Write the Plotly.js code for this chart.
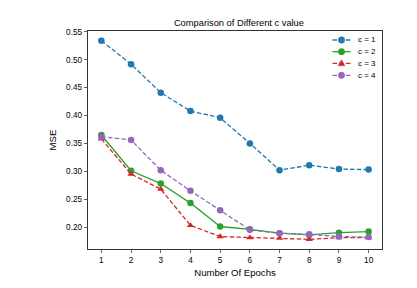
<!DOCTYPE html>
<html><head><meta charset="utf-8">
<script src="https://cdn.plot.ly/plotly-3.0.1.min.js"></script>
<style>html,body{margin:0;padding:0;background:#fff}#chart{width:417px;height:288px}</style>
</head><body><div id="chart"></div>
<script>
const epochs = [1,2,3,4,5,6,7,8,9,10];
const c1 = [0.534,0.492,0.441,0.408,0.396,0.350,0.302,0.311,0.304,0.303];
const c2 = [0.365,0.301,0.278,0.243,0.201,0.196,0.189,0.186,0.190,0.192];
const c3 = [0.358,0.295,0.268,0.203,0.183,0.181,0.180,0.178,0.181,0.181];
const c4 = [0.362,0.356,0.302,0.265,0.230,0.195,0.189,0.187,0.183,0.182];
const names = ['c = 1','c = 2','c = 3','c = 4'];
const yTicks = [0.20,0.25,0.30,0.35,0.40,0.45,0.50,0.55];
const colors = ['#1f77b4','#2ca02c','#d62728','#9467bd'];
const series = [c1,c2,c3,c4];
const DASH = '4.5px,2.2px';
const dashes = [DASH,'solid',DASH,DASH];
const symbols = ['circle','circle','triangle-up','circle'];
const traces = series.map((s,i)=>({
  x: epochs, y: s, name: names[i], type:'scatter', mode:'lines+markers', showlegend:false,
  line:{color:colors[i], width:1.3, dash:dashes[i]},
  marker:{color:colors[i], size:6.5, symbol:symbols[i]}
}));
const font = {family:'Liberation Sans, Arial, sans-serif', color:'#000'};

// manual legend (plot-area pixel geometry)
const L=88, R=382, T=31, B=249;
const px = v => (v-L)/(R-L), py = v => (B-v)/(B-T);
const legY = [40, 51.7, 63.3, 75.3];
const shapes = [], annotations = [];
names.forEach((n,i)=>{
  const y = py(legY[i]);
  shapes.push({type:'line', xref:'paper', yref:'paper', x0:px(332.5), x1:px(350.5), y0:y, y1:y,
    line:{color:colors[i], width:1.3, dash:dashes[i]}});
  if (symbols[i]==='circle') {
    const r=3.2;
    shapes.push({type:'circle', xref:'paper', yref:'paper', x0:px(341.5-r), x1:px(341.5+r), y0:py(legY[i]+r), y1:py(legY[i]-r),
      fillcolor:colors[i], line:{color:colors[i], width:0.5}});
  } else {
    const cx=341.5, cy=legY[i];
    const pts=[[cx,cy-3.6],[cx+3.4,cy+2.4],[cx-3.4,cy+2.4]];
    const path='M'+pts.map(p=>px(p[0])+','+py(p[1])).join(' L')+' Z';
    shapes.push({type:'path', xref:'paper', yref:'paper', path:path, fillcolor:colors[i], line:{color:colors[i], width:0.5}});
  }
  annotations.push({xref:'paper', yref:'paper', x:px(355.5), y:y, xanchor:'left', yanchor:'middle',
    text:n, showarrow:false, font:{...font, size:8}});
});

const layout = {
  width:417, height:288,
  margin:{l:L, r:417-R, t:T, b:288-B},
  paper_bgcolor:'#fff', plot_bgcolor:'#fff',
  font:{...font, size:8},
  title:{text:'Comparison of Different c value', font:{...font,size:9.3}, xref:'container', x:0.573, xanchor:'center', y:1-22.7/288, yanchor:'middle'},
  xaxis:{range:[0.55,10.45], tickvals:epochs, ticks:'outside', ticklen:3.5, tickwidth:0.8,
    showline:true, mirror:true, linecolor:'#000', linewidth:0.8, showgrid:false, zeroline:false,
    tickfont:{...font,size:8.2},
    title:{text:'Number Of Epochs', font:{...font,size:9.6}, standoff:5}},
  yaxis:{range:[0.1607,0.5515], tickvals:yTicks, ticktext:yTicks.map(v=>v.toFixed(2)),
    ticks:'outside', ticklen:3.5, tickwidth:0.8,
    showline:true, mirror:true, linecolor:'#000', linewidth:0.8, showgrid:false, zeroline:false,
    tickfont:{...font,size:8.2},
    title:{text:'MSE', font:{...font,size:9.6}, standoff:7}},
  showlegend:false,
  shapes:shapes, annotations:annotations
};
Plotly.newPlot('chart', traces, layout, {staticPlot:true, displayModeBar:false});
</script></body></html>
